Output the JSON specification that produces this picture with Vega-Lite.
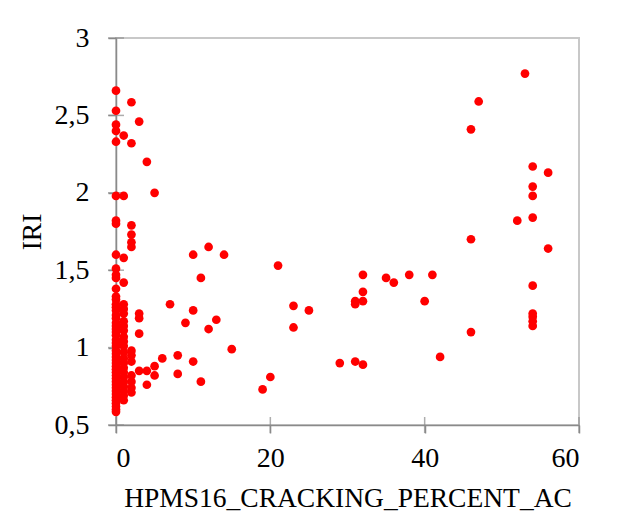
{
  "$schema": "https://vega.github.io/schema/vega-lite/v6.json",
  "autosize": {"type": "none"},
  "width": 463,
  "height": 387,
  "padding": {"left": 116, "top": 38, "right": 42, "bottom": 93},
  "background": "white",
  "config": {
    "view": {"stroke": "#c8c8c8", "strokeWidth": 2},
    "font": "Liberation Serif",
    "axis": {
      "labelFont": "Liberation Serif",
      "titleFont": "Liberation Serif",
      "labelFontSize": 28,
      "titleFontSize": 27.5,
      "labelColor": "black",
      "titleColor": "black",
      "titleFontWeight": "normal",
      "domainColor": "#8a8a8a",
      "domainWidth": 1.5,
      "tickColor": "#8a8a8a",
      "tickWidth": 1.5,
      "tickSize": 8,
      "grid": false
    }
  },
  "datasets": {
    "pts": [
      {"HPMS16_CRACKING_PERCENT_AC": 0, "IRI": 2.66},
      {"HPMS16_CRACKING_PERCENT_AC": 0, "IRI": 2.53},
      {"HPMS16_CRACKING_PERCENT_AC": 0, "IRI": 2.44},
      {"HPMS16_CRACKING_PERCENT_AC": 0, "IRI": 2.40},
      {"HPMS16_CRACKING_PERCENT_AC": 0, "IRI": 2.33},
      {"HPMS16_CRACKING_PERCENT_AC": 0, "IRI": 1.98},
      {"HPMS16_CRACKING_PERCENT_AC": 0, "IRI": 1.82},
      {"HPMS16_CRACKING_PERCENT_AC": 0, "IRI": 1.80},
      {"HPMS16_CRACKING_PERCENT_AC": 0, "IRI": 1.60},
      {"HPMS16_CRACKING_PERCENT_AC": 0, "IRI": 1.51},
      {"HPMS16_CRACKING_PERCENT_AC": 0, "IRI": 1.47},
      {"HPMS16_CRACKING_PERCENT_AC": 0, "IRI": 1.45},
      {"HPMS16_CRACKING_PERCENT_AC": 0, "IRI": 1.38},
      {"HPMS16_CRACKING_PERCENT_AC": 0, "IRI": 1.33},
      {"HPMS16_CRACKING_PERCENT_AC": 0, "IRI": 1.31},
      {"HPMS16_CRACKING_PERCENT_AC": 0, "IRI": 1.28},
      {"HPMS16_CRACKING_PERCENT_AC": 0, "IRI": 1.26},
      {"HPMS16_CRACKING_PERCENT_AC": 0, "IRI": 1.24},
      {"HPMS16_CRACKING_PERCENT_AC": 0, "IRI": 1.21},
      {"HPMS16_CRACKING_PERCENT_AC": 0, "IRI": 1.19},
      {"HPMS16_CRACKING_PERCENT_AC": 0, "IRI": 1.16},
      {"HPMS16_CRACKING_PERCENT_AC": 0, "IRI": 1.14},
      {"HPMS16_CRACKING_PERCENT_AC": 0, "IRI": 1.12},
      {"HPMS16_CRACKING_PERCENT_AC": 0, "IRI": 1.10},
      {"HPMS16_CRACKING_PERCENT_AC": 0, "IRI": 1.08},
      {"HPMS16_CRACKING_PERCENT_AC": 0, "IRI": 1.05},
      {"HPMS16_CRACKING_PERCENT_AC": 0, "IRI": 1.03},
      {"HPMS16_CRACKING_PERCENT_AC": 0, "IRI": 1.01},
      {"HPMS16_CRACKING_PERCENT_AC": 0, "IRI": 0.98},
      {"HPMS16_CRACKING_PERCENT_AC": 0, "IRI": 0.96},
      {"HPMS16_CRACKING_PERCENT_AC": 0, "IRI": 0.94},
      {"HPMS16_CRACKING_PERCENT_AC": 0, "IRI": 0.92},
      {"HPMS16_CRACKING_PERCENT_AC": 0, "IRI": 0.90},
      {"HPMS16_CRACKING_PERCENT_AC": 0, "IRI": 0.88},
      {"HPMS16_CRACKING_PERCENT_AC": 0, "IRI": 0.86},
      {"HPMS16_CRACKING_PERCENT_AC": 0, "IRI": 0.84},
      {"HPMS16_CRACKING_PERCENT_AC": 0, "IRI": 0.82},
      {"HPMS16_CRACKING_PERCENT_AC": 0, "IRI": 0.80},
      {"HPMS16_CRACKING_PERCENT_AC": 0, "IRI": 0.78},
      {"HPMS16_CRACKING_PERCENT_AC": 0, "IRI": 0.76},
      {"HPMS16_CRACKING_PERCENT_AC": 0, "IRI": 0.74},
      {"HPMS16_CRACKING_PERCENT_AC": 0, "IRI": 0.72},
      {"HPMS16_CRACKING_PERCENT_AC": 0, "IRI": 0.70},
      {"HPMS16_CRACKING_PERCENT_AC": 0, "IRI": 0.68},
      {"HPMS16_CRACKING_PERCENT_AC": 0, "IRI": 0.66},
      {"HPMS16_CRACKING_PERCENT_AC": 0, "IRI": 0.64},
      {"HPMS16_CRACKING_PERCENT_AC": 0, "IRI": 0.62},
      {"HPMS16_CRACKING_PERCENT_AC": 0, "IRI": 0.60},
      {"HPMS16_CRACKING_PERCENT_AC": 0, "IRI": 0.585},
      {"HPMS16_CRACKING_PERCENT_AC": 1, "IRI": 2.37},
      {"HPMS16_CRACKING_PERCENT_AC": 1, "IRI": 1.98},
      {"HPMS16_CRACKING_PERCENT_AC": 1, "IRI": 1.58},
      {"HPMS16_CRACKING_PERCENT_AC": 1, "IRI": 1.42},
      {"HPMS16_CRACKING_PERCENT_AC": 1, "IRI": 1.28},
      {"HPMS16_CRACKING_PERCENT_AC": 1, "IRI": 1.25},
      {"HPMS16_CRACKING_PERCENT_AC": 1, "IRI": 1.22},
      {"HPMS16_CRACKING_PERCENT_AC": 1, "IRI": 1.17},
      {"HPMS16_CRACKING_PERCENT_AC": 1, "IRI": 1.14},
      {"HPMS16_CRACKING_PERCENT_AC": 1, "IRI": 1.11},
      {"HPMS16_CRACKING_PERCENT_AC": 1, "IRI": 1.07},
      {"HPMS16_CRACKING_PERCENT_AC": 1, "IRI": 1.04},
      {"HPMS16_CRACKING_PERCENT_AC": 1, "IRI": 1.01},
      {"HPMS16_CRACKING_PERCENT_AC": 1, "IRI": 0.97},
      {"HPMS16_CRACKING_PERCENT_AC": 1, "IRI": 0.93},
      {"HPMS16_CRACKING_PERCENT_AC": 1, "IRI": 0.90},
      {"HPMS16_CRACKING_PERCENT_AC": 1, "IRI": 0.87},
      {"HPMS16_CRACKING_PERCENT_AC": 1, "IRI": 0.84},
      {"HPMS16_CRACKING_PERCENT_AC": 1, "IRI": 0.81},
      {"HPMS16_CRACKING_PERCENT_AC": 1, "IRI": 0.78},
      {"HPMS16_CRACKING_PERCENT_AC": 1, "IRI": 0.75},
      {"HPMS16_CRACKING_PERCENT_AC": 1, "IRI": 0.72},
      {"HPMS16_CRACKING_PERCENT_AC": 1, "IRI": 0.69},
      {"HPMS16_CRACKING_PERCENT_AC": 1, "IRI": 0.66},
      {"HPMS16_CRACKING_PERCENT_AC": 2, "IRI": 2.585},
      {"HPMS16_CRACKING_PERCENT_AC": 2, "IRI": 2.32},
      {"HPMS16_CRACKING_PERCENT_AC": 2, "IRI": 1.79},
      {"HPMS16_CRACKING_PERCENT_AC": 2, "IRI": 1.73},
      {"HPMS16_CRACKING_PERCENT_AC": 2, "IRI": 1.68},
      {"HPMS16_CRACKING_PERCENT_AC": 2, "IRI": 1.65},
      {"HPMS16_CRACKING_PERCENT_AC": 2, "IRI": 0.98},
      {"HPMS16_CRACKING_PERCENT_AC": 2, "IRI": 0.95},
      {"HPMS16_CRACKING_PERCENT_AC": 2, "IRI": 0.91},
      {"HPMS16_CRACKING_PERCENT_AC": 2, "IRI": 0.82},
      {"HPMS16_CRACKING_PERCENT_AC": 2, "IRI": 0.78},
      {"HPMS16_CRACKING_PERCENT_AC": 2, "IRI": 0.74},
      {"HPMS16_CRACKING_PERCENT_AC": 2, "IRI": 0.71},
      {"HPMS16_CRACKING_PERCENT_AC": 3, "IRI": 2.46},
      {"HPMS16_CRACKING_PERCENT_AC": 3, "IRI": 1.22},
      {"HPMS16_CRACKING_PERCENT_AC": 3, "IRI": 1.19},
      {"HPMS16_CRACKING_PERCENT_AC": 3, "IRI": 1.09},
      {"HPMS16_CRACKING_PERCENT_AC": 3, "IRI": 0.85},
      {"HPMS16_CRACKING_PERCENT_AC": 4, "IRI": 2.20},
      {"HPMS16_CRACKING_PERCENT_AC": 4, "IRI": 0.85},
      {"HPMS16_CRACKING_PERCENT_AC": 4, "IRI": 0.76},
      {"HPMS16_CRACKING_PERCENT_AC": 5, "IRI": 2.00},
      {"HPMS16_CRACKING_PERCENT_AC": 5, "IRI": 0.88},
      {"HPMS16_CRACKING_PERCENT_AC": 5, "IRI": 0.82},
      {"HPMS16_CRACKING_PERCENT_AC": 6, "IRI": 0.93},
      {"HPMS16_CRACKING_PERCENT_AC": 7, "IRI": 1.28},
      {"HPMS16_CRACKING_PERCENT_AC": 8, "IRI": 0.95},
      {"HPMS16_CRACKING_PERCENT_AC": 8, "IRI": 0.83},
      {"HPMS16_CRACKING_PERCENT_AC": 9, "IRI": 1.16},
      {"HPMS16_CRACKING_PERCENT_AC": 10, "IRI": 1.60},
      {"HPMS16_CRACKING_PERCENT_AC": 10, "IRI": 1.24},
      {"HPMS16_CRACKING_PERCENT_AC": 10, "IRI": 0.91},
      {"HPMS16_CRACKING_PERCENT_AC": 11, "IRI": 1.45},
      {"HPMS16_CRACKING_PERCENT_AC": 11, "IRI": 0.78},
      {"HPMS16_CRACKING_PERCENT_AC": 12, "IRI": 1.65},
      {"HPMS16_CRACKING_PERCENT_AC": 12, "IRI": 1.12},
      {"HPMS16_CRACKING_PERCENT_AC": 13, "IRI": 1.18},
      {"HPMS16_CRACKING_PERCENT_AC": 14, "IRI": 1.60},
      {"HPMS16_CRACKING_PERCENT_AC": 15, "IRI": 0.99},
      {"HPMS16_CRACKING_PERCENT_AC": 19, "IRI": 0.73},
      {"HPMS16_CRACKING_PERCENT_AC": 20, "IRI": 0.81},
      {"HPMS16_CRACKING_PERCENT_AC": 21, "IRI": 1.53},
      {"HPMS16_CRACKING_PERCENT_AC": 23, "IRI": 1.27},
      {"HPMS16_CRACKING_PERCENT_AC": 23, "IRI": 1.13},
      {"HPMS16_CRACKING_PERCENT_AC": 25, "IRI": 1.24},
      {"HPMS16_CRACKING_PERCENT_AC": 29, "IRI": 0.90},
      {"HPMS16_CRACKING_PERCENT_AC": 31, "IRI": 1.30},
      {"HPMS16_CRACKING_PERCENT_AC": 31, "IRI": 1.28},
      {"HPMS16_CRACKING_PERCENT_AC": 31, "IRI": 0.91},
      {"HPMS16_CRACKING_PERCENT_AC": 32, "IRI": 1.47},
      {"HPMS16_CRACKING_PERCENT_AC": 32, "IRI": 1.36},
      {"HPMS16_CRACKING_PERCENT_AC": 32, "IRI": 1.30},
      {"HPMS16_CRACKING_PERCENT_AC": 32, "IRI": 0.89},
      {"HPMS16_CRACKING_PERCENT_AC": 35, "IRI": 1.45},
      {"HPMS16_CRACKING_PERCENT_AC": 36, "IRI": 1.42},
      {"HPMS16_CRACKING_PERCENT_AC": 38, "IRI": 1.47},
      {"HPMS16_CRACKING_PERCENT_AC": 40, "IRI": 1.30},
      {"HPMS16_CRACKING_PERCENT_AC": 41, "IRI": 1.47},
      {"HPMS16_CRACKING_PERCENT_AC": 42, "IRI": 0.94},
      {"HPMS16_CRACKING_PERCENT_AC": 46, "IRI": 2.41},
      {"HPMS16_CRACKING_PERCENT_AC": 46, "IRI": 1.70},
      {"HPMS16_CRACKING_PERCENT_AC": 46, "IRI": 1.10},
      {"HPMS16_CRACKING_PERCENT_AC": 47, "IRI": 2.59},
      {"HPMS16_CRACKING_PERCENT_AC": 52, "IRI": 1.82},
      {"HPMS16_CRACKING_PERCENT_AC": 53, "IRI": 2.77},
      {"HPMS16_CRACKING_PERCENT_AC": 54, "IRI": 2.17},
      {"HPMS16_CRACKING_PERCENT_AC": 54, "IRI": 2.04},
      {"HPMS16_CRACKING_PERCENT_AC": 54, "IRI": 1.98},
      {"HPMS16_CRACKING_PERCENT_AC": 54, "IRI": 1.84},
      {"HPMS16_CRACKING_PERCENT_AC": 54, "IRI": 1.40},
      {"HPMS16_CRACKING_PERCENT_AC": 54, "IRI": 1.22},
      {"HPMS16_CRACKING_PERCENT_AC": 54, "IRI": 1.20},
      {"HPMS16_CRACKING_PERCENT_AC": 54, "IRI": 1.17},
      {"HPMS16_CRACKING_PERCENT_AC": 54, "IRI": 1.14},
      {"HPMS16_CRACKING_PERCENT_AC": 56, "IRI": 2.13},
      {"HPMS16_CRACKING_PERCENT_AC": 56, "IRI": 1.64}
    ],
    "yticks": [{"IRI": 0.5}, {"IRI": 1}, {"IRI": 1.5}, {"IRI": 2}, {"IRI": 2.5}, {"IRI": 3}],
    "xticks": [{"HPMS16_CRACKING_PERCENT_AC": 0}, {"HPMS16_CRACKING_PERCENT_AC": 20}, {"HPMS16_CRACKING_PERCENT_AC": 40}, {"HPMS16_CRACKING_PERCENT_AC": 60}]
  },
  "layer": [
    {
      "data": {"name": "yticks"},
      "mark": {"type": "tick", "orient": "horizontal", "size": 16, "thickness": 1.5, "color": "#8a8a8a"},
      "encoding": {
        "x": {"datum": 0, "type": "quantitative"},
        "y": {"field": "IRI", "type": "quantitative"}
      }
    },
    {
      "data": {"name": "xticks"},
      "mark": {"type": "tick", "orient": "vertical", "size": 16, "thickness": 1.5, "color": "#8a8a8a"},
      "encoding": {
        "x": {"field": "HPMS16_CRACKING_PERCENT_AC", "type": "quantitative"},
        "y": {"datum": 0.5, "type": "quantitative"}
      }
    },
    {
      "data": {"name": "pts"},
      "mark": {"type": "circle", "size": 76, "color": "#ff0000", "opacity": 1},
      "encoding": {
        "x": {
          "field": "HPMS16_CRACKING_PERCENT_AC",
          "type": "quantitative",
          "scale": {"domain": [0, 60], "nice": false, "zero": false},
          "axis": {
            "title": "HPMS16_CRACKING_PERCENT_AC",
            "values": [0, 20, 40, 60],
            "labelExpr": "replace(toString(datum.value), '.', ',')",
            "labelPadding": 11,
            "titlePadding": 12
          }
        },
        "y": {
          "field": "IRI",
          "type": "quantitative",
          "scale": {"domain": [0.5, 3], "nice": false, "zero": false},
          "axis": {
            "title": "IRI",
            "values": [0.5, 1, 1.5, 2, 2.5, 3],
            "labelExpr": "replace(toString(datum.value), '.', ',')",
            "labelPadding": 19,
            "titlePadding": 8
          }
        }
      }
    }
  ]
}
